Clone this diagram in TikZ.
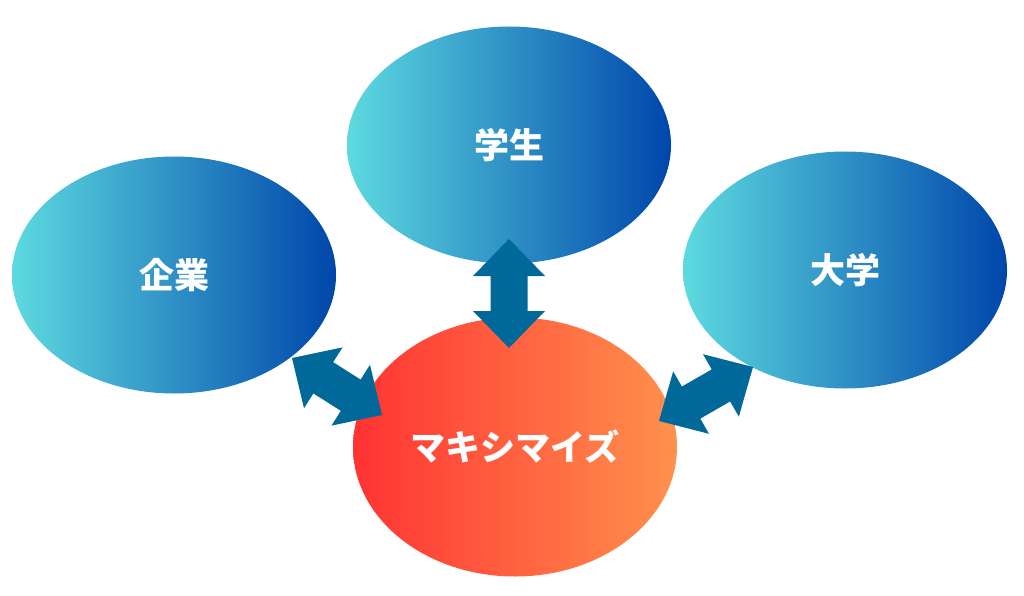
\documentclass[tikz,border=0pt]{standalone}
\usepackage{fontspec}
\newfontfamily\jp{Noto Sans CJK JP}
\usetikzlibrary{shapes.geometric,calc}
\definecolor{bl}{HTML}{5DDAE0}
\definecolor{br}{HTML}{0046AA}
\definecolor{ol}{HTML}{FF3333}
\definecolor{orr}{HTML}{FF914D}
\definecolor{arrowc}{HTML}{00699A}
\newcommand{\bigdarrow}[2]{%
  \fill[arrowc] let \p1=(#1), \p2=(#2),
    \n1={atan2(\y2-\y1,\x2-\x1)}, \n2={veclen(\x2-\x1,\y2-\y1)} in
    [shift={(\p1)}, rotate=\n1]
    (0pt,0pt) -- (37pt,36pt) -- (37pt,18.5pt) -- ({(\n2-37)*1pt},18.5pt)
    -- ({(\n2-37)*1pt},36pt) -- ({\n2*1pt},0pt) -- ({(\n2-37)*1pt},-36pt)
    -- ({(\n2-37)*1pt},-18.5pt) -- (37pt,-18.5pt) -- (37pt,-36pt) -- cycle;}
\tikzset{
  bubble/.style={ellipse, minimum width=324pt, minimum height=237pt, inner sep=0pt,
    font=\jp\bfseries\fontsize{35}{40}\selectfont, text=white},
  bluebub/.style={bubble, left color=bl, right color=br},
  orangebub/.style={bubble, left color=ol, right color=orr, minimum height=259pt}
}
\begin{document}
\begin{tikzpicture}[x=1pt,y=-1pt]
\useasboundingbox (0,0) rectangle (1024,596);
\node[bluebub] (kigyo) at (174,275) {企業};
\node[bluebub] (gakusei) at (509,145) {学生};
\node[bluebub] (daigaku) at (845,270) {大学};
\node[orangebub] (max) at (515,447) {マキシマイズ};
\coordinate (v1) at (509,239); \coordinate (v2) at (509,348);
\coordinate (l1) at (292,358); \coordinate (l2) at (382,415);
\coordinate (r1) at (659,421); \coordinate (r2) at (753,367);
\bigdarrow{v1}{v2}
\bigdarrow{l1}{l2}
\bigdarrow{r1}{r2}
\end{tikzpicture}
\end{document}
